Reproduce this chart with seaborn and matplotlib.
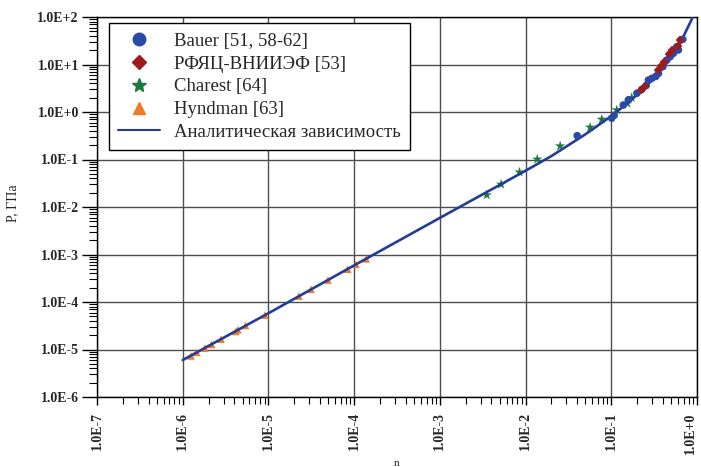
import numpy as np
import pandas as pd
import matplotlib
matplotlib.use("Agg")
import matplotlib.pyplot as plt
from matplotlib.lines import Line2D
from matplotlib.ticker import LogLocator, NullFormatter, FixedLocator
import seaborn as sns

# Аналитическая зависимость (точки)
curve_n = [1e-6, 1e-5, 1e-4, 1e-3, 1e-2, 0.02, 0.05, 0.1, 0.15, 0.2, 0.3, 0.4,
           0.5, 0.6, 0.7, 0.8, 0.85, 0.89, 0.92]
curve_p = [6.0e-6, 5.8e-5, 5.9e-4, 5.9e-3, 0.058, 0.118, 0.34, 0.82, 1.47, 2.3,
           4.7, 8.5, 14.0, 23.5, 40.0, 66.0, 82.0, 100.0, 118.0]

# Bauer [51, 58-62]
bauer_n = [0.040, 0.101, 0.108, 0.138, 0.158, 0.199, 0.227, 0.255, 0.271, 0.297,
           0.330, 0.355, 0.40, 0.444, 0.486, 0.531, 0.581, 0.607, 0.647, 0.683]
bauer_p = [0.317, 0.74, 0.85, 1.40, 1.79, 2.48, 3.0, 3.6, 4.7, 5.1,
           5.6, 6.5, 9.0, 12.4, 14.6, 17.2, 23.7, 20.2, 32.8, 33.9]

# РФЯЦ-ВНИИЭФ [53]
rfyac_n = [0.223, 0.248, 0.352, 0.381, 0.413, 0.472, 0.512, 0.601, 0.635]
rfyac_p = [2.9, 3.5, 7.66, 9.3, 11.3, 16.6, 20.2, 24.5, 32.8]

# Charest [64]
charest_n = [0.00352, 0.00518, 0.0085, 0.0137, 0.0253, 0.0566, 0.0775, 0.116, 0.154, 0.173]
charest_p = [0.0179, 0.030, 0.054, 0.101, 0.192, 0.476, 0.70, 1.10, 1.52, 2.0]

# Hyndman [63]
hyndman_n = [1.25e-6, 1.46e-6, 1.82e-6, 2.18e-6, 2.8e-6, 4.15e-6, 4.4e-6, 5.4e-6,
             9.1e-6, 2.27e-5, 3.14e-5, 4.96e-5, 8.4e-5, 1.05e-4, 1.38e-4]
hyndman_p = [7.3e-6, 8.7e-6, 1.07e-5, 1.28e-5, 1.65e-5, 2.4e-5, 2.6e-5, 3.2e-5,
             5.3e-5, 1.33e-4, 1.85e-4, 2.9e-4, 4.9e-4, 6.2e-4, 8.1e-4]

x_ticks = [1e-7, 1e-6, 1e-5, 1e-4, 1e-3, 1e-2, 1e-1, 1e0]
x_tick_labels = ["1.0E-7", "1.0E-6", "1.0E-5", "1.0E-4", "1.0E-3", "1.0E-2", "1.0E-1", "1.0E+0"]
y_ticks = [1e-6, 1e-5, 1e-4, 1e-3, 1e-2, 1e-1, 1e0, 1e1, 1e2]
y_tick_labels = ["1.0E-6", "1.0E-5", "1.0E-4", "1.0E-3", "1.0E-2", "1.0E-1",
                 "1.0E+0", "1.0E+1", "1.0E+2"]

c_line = "#233d96"
c_bauer = "#2b4aa6"
c_rfyac = "#9e1b1b"
c_charest = "#1b7a3a"
c_hyndman = "#ef7a28"

sns.set_theme(style="ticks")
plt.rcParams["font.family"] = ["Liberation Serif", "DejaVu Serif"]

fig = plt.figure(figsize=(7.01, 4.67), dpi=100)
ax = fig.add_axes([97 / 701, 1 - 397 / 467, 600 / 701, 380 / 467])
ax.set_xscale("log")
ax.set_yscale("log")

curve = pd.DataFrame({"n": curve_n, "P": curve_p})
bauer = pd.DataFrame({"n": bauer_n, "P": bauer_p})
rfyac = pd.DataFrame({"n": rfyac_n, "P": rfyac_p})
charest = pd.DataFrame({"n": charest_n, "P": charest_p})
hyndman = pd.DataFrame({"n": hyndman_n, "P": hyndman_p})

sns.scatterplot(data=hyndman, x="n", y="P", marker="^", s=30, color=c_hyndman,
                edgecolor="none", ax=ax, zorder=2)
sns.scatterplot(data=charest, x="n", y="P", marker="*", s=60, color=c_charest,
                edgecolor="none", ax=ax, zorder=2)
sns.lineplot(data=curve, x="n", y="P", color=c_line, lw=1.9, ax=ax, zorder=3,
             sort=False, estimator=None)
sns.scatterplot(data=bauer, x="n", y="P", marker="o", s=30, color=c_bauer,
                edgecolor="none", ax=ax, zorder=4)
sns.scatterplot(data=rfyac, x="n", y="P", marker="D", s=20, color=c_rfyac,
                edgecolor="none", ax=ax, zorder=4)

ax.set_xlim(1e-7, 1e0)
ax.set_ylim(1e-6, 1e2)

ax.xaxis.set_major_locator(FixedLocator(x_ticks))
ax.yaxis.set_major_locator(FixedLocator(y_ticks))
ax.xaxis.set_minor_locator(LogLocator(base=10, subs=np.arange(2, 10), numticks=20))
ax.yaxis.set_minor_locator(LogLocator(base=10, subs=np.arange(2, 10), numticks=20))
ax.xaxis.set_minor_formatter(NullFormatter())
ax.yaxis.set_minor_formatter(NullFormatter())
ax.set_xticklabels(x_tick_labels, rotation=90, fontsize=10, fontweight="bold")
ax.set_yticklabels(y_tick_labels, fontsize=10, fontweight="bold")

# последняя подпись у самого края — прижать вправо, чтобы не обрезалась
ax.get_xticklabels()[-1].set_horizontalalignment("right")

ax.tick_params(axis="y", which="major", length=11, width=1, color="black", direction="out", pad=2)
ax.tick_params(axis="y", which="minor", length=6, width=0.8, color="black", direction="out")
ax.tick_params(axis="x", which="major", length=6, width=1, color="black", direction="out", pad=5)
ax.tick_params(axis="x", which="minor", length=5, width=0.8, color="black", direction="out")

ax.grid(True, which="major", color="0.3", lw=1)
for sp in ax.spines.values():
    sp.set_color("black")
    sp.set_linewidth(1)

ax.set_xlabel("n", fontsize=8, labelpad=4)
ax.set_ylabel("P, ГПа", fontsize=10)
ax.yaxis.set_label_coords(-0.13, 0.51)

handles = [
    Line2D([], [], marker="o", ls="none", color=c_bauer, markersize=9),
    Line2D([], [], marker="D", ls="none", color=c_rfyac, markersize=7),
    Line2D([], [], marker="*", ls="none", color=c_charest, markersize=10),
    Line2D([], [], marker="^", ls="none", color=c_hyndman, markersize=8),
    Line2D([], [], color=c_line, lw=1.5),
]
labels = ["Bauer [51, 58-62]", "РФЯЦ-ВНИИЭФ [53]", "Charest [64]", "Hyndman [63]",
          "Аналитическая зависимость"]
leg = ax.legend(handles, labels, loc="upper left", bbox_to_anchor=(0.02, 0.983),
                fontsize=13.5, frameon=True, fancybox=False, edgecolor="black",
                framealpha=1, handlelength=2.2, handletextpad=0.75,
                labelspacing=0.3, borderpad=0.5, borderaxespad=0)
leg.get_frame().set_linewidth(1)

fig.savefig("out.png", dpi=100, facecolor="white")
